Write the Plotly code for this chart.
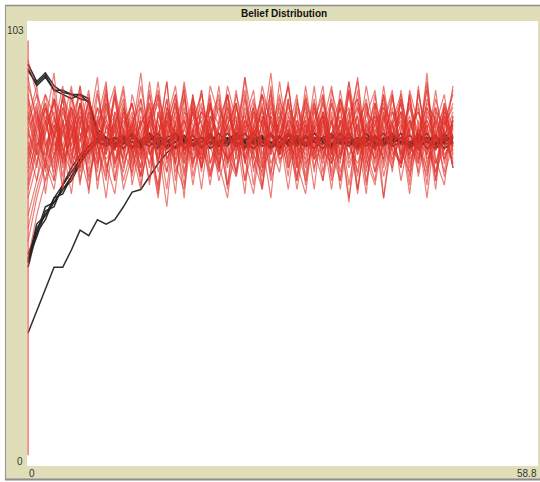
import plotly.graph_objects as go

# ---------------- data ----------------
ticks = list(range(50))

red_01 = [78,70,83,66,79,88,72,64,80,75, 86,69,77,91,73,65,82,76,70,85, 79,67,74,88,80,71,63,78,84,72, 77,69,86,75,81,66,73,89,77,70, 84,62,76,80,71,87,74,68,79,83]
red_02 = [72,81,68,85,74,63,79,87,70,76, 66,83,78,71,89,75,60,80,73,86, 69,77,84,65,72,90,78,67,81,74, 85,70,63,79,88,72,76,82,64,77, 71,86,75,69,80,73,91,66,78,84]
red_03 = [65,74,80,71,86,77,69,83,75,62, 79,88,73,67,82,76,85,70,64,78, 87,74,68,81,77,63,84,79,72,89, 75,66,80,73,86,70,77,61,83,76, 68,82,74,79,65,88,72,80,76,70]
red_04 = [85,77,70,88,64,80,73,78,90,69, 75,82,67,79,84,71,77,63,86,74, 70,81,76,65,79,87,72,68,83,77, 64,78,85,71,74,82,66,80,89,73, 77,62,79,84,70,76,87,71,65,81]
red_05 = [48,58,66,72,78,70,82,75,68,84, 77,71,80,65,76,89,73,79,67,83, 74,86,70,62,78,81,75,69,88,72, 80,66,77,84,73,70,85,78,63,79, 75,82,68,87,74,71,79,64,83,76]
red_06 = [52,62,70,64,77,83,71,79,66,74, 85,73,68,81,76,63,80,88,72,77, 69,84,75,71,79,66,82,74,87,70, 78,64,76,83,71,80,68,77,90,73, 66,81,75,70,84,77,62,79,86,72]
red_07 = [80,88,74,79,67,81,86,73,77,70, 63,78,84,72,80,75,89,68,74,82, 77,65,79,86,71,76,83,69,73,80, 88,74,66,78,81,72,85,77,64,79, 73,80,87,70,76,68,82,75,81,69]
red_08 = [74,66,79,91,70,76,84,68,81,73, 78,87,65,75,80,70,83,77,62,86, 72,79,68,83,76,90,71,64,78,84, 69,75,81,73,66,87,79,72,76,63, 84,70,78,82,67,75,89,73,80,76]
red_09 = [90,79,84,73,80,66,75,82,71,87, 74,68,79,85,72,77,64,81,76,70, 83,78,66,74,87,71,79,75,62,82, 77,86,70,73,80,68,84,76,79,71, 65,77,83,72,86,74,69,81,75,88]
red_10 = [68,75,72,81,69,77,88,63,79,84, 71,76,82,67,74,86,78,70,81,65, 77,83,72,79,68,85,76,80,66,74, 89,71,78,64,82,75,70,87,73,79, 81,67,76,84,72,78,65,83,77,70]
red_11 = [76,84,63,77,85,72,70,80,74,66, 82,75,79,71,87,68,76,84,73,78, 64,80,86,70,75,82,69,77,91,72, 74,79,67,83,76,71,80,65,78,85, 72,88,75,69,79,82,73,77,68,80]
red_12 = [62,70,77,85,73,79,65,82,76,88, 70,78,73,64,80,85,71,76,83,69, 79,74,88,72,67,80,76,83,70,75, 82,69,74,80,86,73,78,62,75,81, 87,72,80,66,77,83,71,76,84,74]
red_13 = [82,73,66,78,88,74,81,70,86,77, 79,64,72,83,75,80,68,77,85,71, 73,81,77,64,84,70,78,86,74,79, 67,83,76,71,79,88,72,76,81,66, 78,74,85,77,63,80,75,70,79,87]
red_14 = [70,80,86,75,71,83,77,67,74,81, 88,72,79,76,66,82,74,85,70,77, 80,68,75,84,73,79,65,81,76,86, 73,78,69,82,77,64,80,74,87,71, 79,85,72,76,81,70,83,78,67,75]
red_15 = [58,66,74,80,77,70,84,72,79,68, 76,83,71,80,74,62,79,86,73,77, 84,70,76,81,67,78,85,72,80,73, 76,82,65,79,71,84,77,69,75,83, 70,79,86,73,68,77,80,74,82,71]
red_16 = [88,81,75,69,83,78,72,86,64,79, 73,81,77,69,84,75,80,72,88,67, 76,83,79,71,74,86,68,80,77,73, 85,70,79,74,82,67,76,89,72,78, 74,81,70,85,77,73,79,66,84,78]
red_17 = [75,69,81,77,64,85,79,73,80,89, 66,77,84,72,79,70,82,76,65,83, 71,78,69,86,75,80,73,84,68,77, 79,72,88,75,70,81,64,78,83,74, 86,69,77,82,71,75,84,80,72,76]
red_18 = [79,86,71,66,80,74,88,77,69,83, 75,71,86,78,65,82,73,79,87,70, 77,84,72,78,81,66,74,88,79,71, 73,80,77,85,68,76,83,71,79,65, 77,84,73,70,87,79,68,76,82,73]
red_19 = [66,77,83,74,79,69,76,84,72,78, 81,70,75,88,76,73,85,66,80,74, 72,88,81,70,77,73,82,79,67,85, 78,73,84,69,76,80,71,87,77,68, 82,76,79,74,85,67,78,83,70,79]
red_20 = [84,74,78,82,70,87,66,75,83,72, 79,85,69,77,81,74,68,83,76,80, 86,75,70,79,84,72,77,64,82,78, 71,85,74,79,66,77,83,70,75,88, 76,71,82,79,73,86,77,68,74,80]
red_21 = [73,83,69,76,85,72,80,66,78,74, 87,77,73,80,69,79,76,82,71,84, 75,67,80,86,73,77,81,70,85,76, 69,80,73,78,84,72,87,75,68,82, 79,73,86,71,78,84,70,77,73,81]
red_22 = [55,64,71,79,74,82,68,76,87,73, 80,66,74,79,83,71,78,86,72,75, 81,74,77,69,83,76,71,80,86,72, 78,67,82,76,73,79,85,74,70,77, 84,78,71,76,80,74,67,82,79,86]
red_23 = [94,86,80,72,77,83,71,79,74,67, 82,78,70,85,76,72,80,74,89,76, 71,79,85,74,68,83,77,81,73,79, 88,74,71,80,76,84,72,78,81,69, 76,83,79,72,86,71,80,75,78,69]
red_24 = [77,72,86,81,73,68,79,84,76,71, 74,80,76,67,81,86,70,78,74,82, 69,76,83,78,72,80,87,71,76,83, 72,77,80,68,85,75,79,83,67,80, 73,86,76,81,69,78,74,87,71,77]
red_25 = [71,79,74,68,82,76,84,71,78,86, 70,75,81,73,77,64,83,79,74,72, 87,70,78,83,75,71,79,86,74,68, 81,76,72,84,78,73,66,80,85,75, 71,78,82,75,80,73,88,70,76,82]
red_26 = [86,75,83,77,72,79,69,81,74,80, 77,84,72,76,80,87,74,71,82,79, 68,84,74,77,80,73,78,65,81,77, 83,79,74,88,72,77,81,74,79,84, 68,75,80,86,74,70,81,77,83,74]
red_27 = [64,73,79,84,71,76,81,75,70,85, 80,73,78,69,86,77,81,73,78,74, 82,79,71,86,78,74,76,83,72,80, 75,71,85,77,81,70,76,86,73,77, 80,74,69,78,83,76,72,85,77,79]
red_28 = [78,82,76,70,86,80,75,85,78,72, 86,74,80,83,72,76,89,70,78,85, 73,80,75,71,86,78,83,74,77,81, 70,84,78,73,80,76,71,82,85,74, 79,83,75,70,78,82,76,73,81,69]
red_29 = [69,78,84,76,83,73,77,72,83,79, 73,79,84,75,70,81,77,84,68,78, 82,76,73,79,84,70,77,82,76,72, 80,77,83,72,78,85,75,80,72,84, 76,71,79,85,72,78,83,76,71,78]
red_30 = [81,72,77,85,80,71,84,78,75,81, 69,82,77,73,79,84,71,76,80,73, 77,85,69,82,75,78,72,86,80,74, 84,76,79,71,82,73,80,77,84,72, 81,78,73,82,77,72,85,79,74,80]

black_a1 = [92,88,90,87,86,85,86,85,76.5,75, 74.5,76,75,73.5,76.5,75,74,77,75.5,74, 76,73.5,75,77,74.5,75.5,76,74,75,73.5, 76.5,75,74,76,75.5,74.5,77,75,73.5,76, 75,74.5,76.5,75,74,75.5,77,74,75.5,75]
black_a2 = [93,89,91,88,86.5,86,86,84,77,75.5, 76,74.5,77,75,74,76,75.5,73.5,75,76.5, 74,75,77,74.5,76,75,73.5,75.5,76.5,74, 75,76,74.5,77,75,74,75.5,76,73.5,75, 76.5,74.5,75,76,74,77,75,74.5,76,75.5]
black_a3 = [91.5,88.5,90.5,87,87,86,85,84.5,78,76, 75,73.5,76,74.5,75.5,77,74,75,76.5,74.5, 75,76,74,75.5,77,73.5,75,76,74.5,76.5, 74,75.5,75,73.5,76,77,74.5,75,76,74, 75.5,77,74,75,76.5,74.5,75,76,73.5,75]
black_b1 = [47,55,58,61,64,67,70,73,75,74.5, 76,75,73.5,75.5,77,74,75,76,74.5,75.5, 73.5,76,75,74,77,75.5,74.5,76,75,73.5, 75.5,76.5,74,75,76,74.5,77,75,74,75.5, 76,74.5,75,77,73.5,75,76,74.5,75.5,76]
black_b2 = [48,53,59,60,65,68,71,74,75.5,76, 74.5,75,77,74,75.5,76,73.5,75,76.5,74, 75,77,74.5,76,75,74,75.5,76.5,74,75, 77,75.5,74,76,75,73.5,76,75,74.5,77, 75,74,76.5,75,74.5,76,75,73.5,75,76.5]
black_b3 = [46,54,57,62,63,67,71,73,75,76, 74,75.5,76.5,74.5,75,73.5,76,77,75,74.5, 76,75,74,75.5,76.5,75,73.5,75,77,74.5, 75.5,74,76,75,74.5,76.5,75,74,75.5,76, 74.5,75,77,75,74,75.5,76,74.5,75,76]
black_b4 = [47.5,56,58,62,65,69,72,74,76,75, 73.5,76,75,74.5,77,75.5,74,75,76,74.5, 75,76.5,74,75,75.5,77,74.5,75,73.5,76, 75,74.5,76,77,75,74,75.5,76,74.5,75, 73.5,76,75.5,75,74,76.5,75,74.5,77,75]
black_b5 = [49,54,60,61,64,66,70,73,75,74, 75.5,76.5,74,75,76,74.5,75,77,73.5,75.5, 76,74.5,75,76,74,75.5,77,75,74,76, 74.5,75,76.5,75,73.5,76,75.5,74.5,75,77, 74,75.5,76,74.5,75,76,73.5,75,76.5,74.5]
black_c1 = [30.8,36,41,46,46,50,54.6,53.3,57,56, 57,60,63.4,64,67,70,72.5,74,75.5,74.5, 76,75,74,75.5,77,74.5,75,76,73.5,75, 76.5,75,74,75.5,76,74.5,75,77,74,75.5, 76,75,74.5,76,75,73.5,75.5,76.5,74.5,75]

red_edge_x = [0, 0]
red_edge_y = [2.5, 98.5]

title_text = "Belief Distribution"
y_max_label = "103"
y_min_label = "0"
x_min_label = "0"
x_max_label = "58.8"

red_series = [red_01, red_02, red_03, red_04, red_05, red_06, red_07, red_08, red_09, red_10,
              red_11, red_12, red_13, red_14, red_15, red_16, red_17, red_18, red_19, red_20,
              red_21, red_22, red_23, red_24, red_25, red_26, red_27, red_28, red_29, red_30]
black_series = [black_a1, black_a2, black_a3, black_b1, black_b2, black_b3, black_b4, black_b5, black_c1]

# ---------------- figure ----------------
W, H = 540, 482
L, R, T, B = 27, 2, 21, 16
PW, PH = W - L - R, H - T - B


def px(x):
    return (x - L) / PW


def py(y):
    return (H - B - y) / PH


fig = go.Figure()
for s in black_series:
    fig.add_trace(go.Scatter(x=ticks, y=s, mode="lines",
                             line=dict(color="rgba(35,35,35,0.95)", width=1.5),
                             hoverinfo="skip", showlegend=False))
for s in red_series:
    fig.add_trace(go.Scatter(x=ticks, y=s, mode="lines",
                             line=dict(color="rgba(222,50,42,0.62)", width=1.2),
                             hoverinfo="skip", showlegend=False))
fig.add_trace(go.Scatter(x=red_edge_x, y=red_edge_y, mode="lines",
                         line=dict(color="rgba(228,70,60,0.8)", width=1.4),
                         hoverinfo="skip", showlegend=False))

beige = "#dfdeb9"
shapes = [
    # white outer margins
    dict(type="rect", xref="paper", yref="paper", x0=px(-5), x1=px(W + 5), y0=py(5), y1=py(-5),
         fillcolor="white", line=dict(width=0), layer="below"),
    dict(type="rect", xref="paper", yref="paper", x0=px(-5), x1=px(5), y0=py(H + 5), y1=py(-5),
         fillcolor="white", line=dict(width=0), layer="below"),
    dict(type="rect", xref="paper", yref="paper", x0=px(-5), x1=px(W + 5), y0=py(H + 5), y1=py(480),
         fillcolor="white", line=dict(width=0), layer="below"),
    # grey frame lines
    dict(type="line", xref="paper", yref="paper", x0=px(5), x1=px(W + 2), y0=py(5.5), y1=py(5.5),
         line=dict(color="#8c8c8c", width=1.5)),
    dict(type="line", xref="paper", yref="paper", x0=px(5.5), x1=px(5.5), y0=py(5), y1=py(480),
         line=dict(color="#9a9a9a", width=1.2)),
    dict(type="line", xref="paper", yref="paper", x0=px(5), x1=px(W + 2), y0=py(479.5), y1=py(479.5),
         line=dict(color="#8c8c8c", width=2)),
]

font_fam = "Liberation Sans, Arial, sans-serif"
annotations = [
    dict(text="<b>" + title_text + "</b>", x=px(283.5), y=py(13.5), xref="paper", yref="paper",
         xanchor="center", yanchor="middle", showarrow=False,
         font=dict(family=font_fam, size=10, color="#111")),
    dict(text=y_max_label, x=px(25.5), y=py(30.5), xref="paper", yref="paper",
         xanchor="right", yanchor="middle", showarrow=False,
         font=dict(family=font_fam, size=10, color="#333")),
    dict(text=y_min_label, x=px(24.5), y=py(461), xref="paper", yref="paper",
         xanchor="right", yanchor="middle", showarrow=False,
         font=dict(family=font_fam, size=10, color="#333")),
    dict(text=x_min_label, x=px(26.5), y=py(473), xref="paper", yref="paper",
         xanchor="left", yanchor="middle", showarrow=False,
         font=dict(family=font_fam, size=10, color="#333")),
    dict(text=x_max_label, x=px(538.5), y=py(473), xref="paper", yref="paper",
         xanchor="right", yanchor="middle", showarrow=False,
         font=dict(family=font_fam, size=10, color="#333")),
]

fig.update_layout(
    width=W, height=H, autosize=False,
    margin=dict(l=L, r=R, t=T, b=B, pad=0),
    paper_bgcolor=beige, plot_bgcolor="white",
    xaxis=dict(range=[-0.12, 58.8], showgrid=False, zeroline=False, showticklabels=False,
               ticks="", showline=False, fixedrange=True),
    yaxis=dict(range=[0, 103], showgrid=False, zeroline=False, showticklabels=False,
               ticks="", showline=False, fixedrange=True),
    shapes=shapes, annotations=annotations, showlegend=False,
)

fig.write_html(
    "out.html",
    config={"displayModeBar": False},
    post_script="document.body.style.margin='0';document.body.style.overflow='hidden';",
)
